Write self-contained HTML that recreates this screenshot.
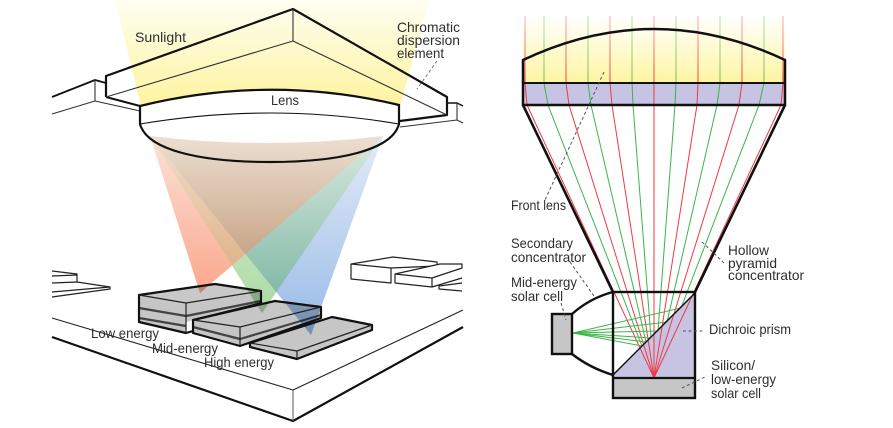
<!DOCTYPE html>
<html><head><meta charset="utf-8"><style>
html,body{margin:0;padding:0;background:#fff}
svg{display:block}
text{font-family:"Liberation Sans",sans-serif;font-size:14px;fill:#2e2e2e}
</style></head><body>
<svg width="893" height="428" viewBox="0 0 893 428" xmlns="http://www.w3.org/2000/svg">
<defs>
<linearGradient id="sun" x1="0" y1="0" x2="0" y2="1"><stop offset="0" stop-color="#fffef2"/><stop offset="1" stop-color="#fdf39c"/></linearGradient>
<linearGradient id="sun2" gradientUnits="userSpaceOnUse" x1="0" y1="16" x2="0" y2="83"><stop offset="0" stop-color="#fff"/><stop offset="1" stop-color="#fdf5a0"/></linearGradient>
<linearGradient id="r" gradientUnits="userSpaceOnUse" x1="0" y1="136" x2="0" y2="295"><stop offset="0" stop-color="#fbe3d8"/><stop offset="1" stop-color="#fba68c"/></linearGradient>
<linearGradient id="g" gradientUnits="userSpaceOnUse" x1="0" y1="136" x2="0" y2="315"><stop offset="0" stop-color="#e6f3e0"/><stop offset="1" stop-color="#aad9a2"/></linearGradient>
<linearGradient id="b" gradientUnits="userSpaceOnUse" x1="0" y1="136" x2="0" y2="335"><stop offset="0" stop-color="#e4ecf8"/><stop offset="1" stop-color="#98bae6"/></linearGradient>
<linearGradient id="rg" gradientUnits="userSpaceOnUse" x1="0" y1="136" x2="0" y2="275"><stop offset="0" stop-color="#f3e0cc"/><stop offset="1" stop-color="#dfb088"/></linearGradient>
<linearGradient id="gb" gradientUnits="userSpaceOnUse" x1="0" y1="136" x2="0" y2="300"><stop offset="0" stop-color="#dbe9e0"/><stop offset="1" stop-color="#7fb8a4"/></linearGradient>
<linearGradient id="rb" gradientUnits="userSpaceOnUse" x1="0" y1="136" x2="0" y2="255"><stop offset="0" stop-color="#ecdfd1"/><stop offset="1" stop-color="#c8a587"/></linearGradient>
<linearGradient id="rl" gradientUnits="userSpaceOnUse" x1="0" y1="16" x2="0" y2="83"><stop offset="0" stop-color="#f4707a" stop-opacity=".55"/><stop offset="1" stop-color="#ee3540"/></linearGradient>
<linearGradient id="gl" gradientUnits="userSpaceOnUse" x1="0" y1="16" x2="0" y2="83"><stop offset="0" stop-color="#7ccb80" stop-opacity=".55"/><stop offset="1" stop-color="#6cc040"/></linearGradient>
<clipPath id="cR"><polygon points="150,136 383,136 200,293"/></clipPath>
<clipPath id="cG"><polygon points="150,136 383,136 262,313"/></clipPath>
<clipPath id="cB"><polygon points="150,136 383,136 311,335"/></clipPath>
<clipPath id="cT"><path d="M100,130 H420 V136 H383 Q266,150 150,136 H100 Z M100,136 H150 Q266,150 383,136 H430 V350 H100 Z" clip-rule="evenodd"/></clipPath>
<clipPath id="cTop"><path d="M100,350 V136 H150 Q266,150 383,136 H430 V350 Z"/></clipPath>
</defs>

<!-- LEFT: sunlight -->
<polygon points="115,0 429,0 399,110 142,110" fill="url(#sun)"/>

<!-- roof -->
<g fill="none" stroke="#111" stroke-linejoin="round">
<path d="M52,97 L95,80 L106,83" stroke-width="1.8"/>
<path d="M52,114 L95,101 L140,111 M95,80 V101" stroke="#333" stroke-width="1.1"/>
<path d="M447,103 H457 L463,106" stroke-width="1.5"/>
<path d="M400,127 L457,120 L463,123 M457,103 V120" stroke="#333" stroke-width="1.1"/>
<path d="M106,97 V76 L293,9 L447,97 V115 L400,121" stroke-width="2.2"/>
<path d="M106,97 L140,106" stroke-width="2"/>
<path d="M293,9 V41 M106,97 L293,41 L447,115" stroke="#333" stroke-width="1.1"/>
</g>

<!-- lens -->
<path d="M140,106 Q270,74 399,105 V124 C392,150 340,162 270,162 C200,162 147,150 140,124 Z" fill="#fff"/>

<!-- platform and buildings -->
<g fill="#fff" stroke="#222" stroke-linejoin="round">
<path d="M52,318 L293,390 L463,310" fill="none" stroke-width="1.1"/>
<path d="M52,337 L293,421 L463,327" fill="none" stroke="#111" stroke-width="2.2"/>
<path d="M293,390 V421" fill="none" stroke="#555" stroke-width="1"/>
<path d="M351,264 L393,257 L437,262 V266 L391,268 V283 L351,279 Z M351,264 L391,268" stroke-width="1.2"/>
<path d="M395,274 L440,264 L462,264 V268 L432,278 V287 L395,283 Z M395,274 L432,278 M432,287 L462,278" stroke-width="1.2"/>
<path d="M462,283 L439,286 V289 L462,291" stroke-width="1.2"/>
<path d="M52,271 L77,274 V282 M52,276 L77,275 M52,283 L77,282 L110,287 V289 L52,297 M52,292 L110,287" fill="none" stroke-width="1.2"/>
</g>

<!-- cells -->
<g stroke="#111" stroke-linejoin="round">
<polygon points="139,295 186,303 186,333 139,322" fill="#c6c6c6" stroke="none"/>
<polygon points="186,303 261,291 261,303 186,322" fill="#c6c6c6" stroke="none"/>
<polygon points="139,295 215,284 261,291 186,303" fill="#c8c8c8" stroke="none"/>
<path d="M139,308 L186,316 L261,301 M139,318 L186,326" fill="none" stroke="#444" stroke-width="2.4"/>
<polygon points="193,320 275,301 321,307 321,318 240,346 193,333" fill="#c6c6c6" stroke="none"/>
<path d="M193,327 L240,339 L321,315" fill="none" stroke="#444" stroke-width="2.2"/>
<polygon points="250,343 332,317 372,325 372,330 297,359 250,347" fill="#c6c6c6" stroke="none"/>
</g>

<!-- cones -->
<g style="mix-blend-mode:multiply" clip-path="url(#cTop)">
<polygon points="150,136 383,136 200,293" fill="url(#r)"/>
<polygon points="150,136 383,136 262,313" fill="url(#g)"/>
<polygon points="150,136 383,136 311,335" fill="url(#b)"/>
<g clip-path="url(#cR)"><rect x="100" y="130" width="330" height="220" fill="url(#rg)" clip-path="url(#cG)"/></g>
<g clip-path="url(#cG)"><rect x="100" y="130" width="330" height="220" fill="url(#gb)" clip-path="url(#cB)"/></g>
<g clip-path="url(#cR)"><rect x="100" y="130" width="330" height="220" fill="url(#rb)" clip-path="url(#cB)"/></g>
</g>

<!-- cell outlines -->
<g fill="none" stroke="#111" stroke-linejoin="round">
<path d="M261,303 V291 L215,284 L139,295 V322 L186,333 L193,331" stroke-width="2.2"/>
<path d="M261,303 L193,320" stroke-width="1.8"/>
<path d="M139,295 L186,303 L261,291 M186,303 V333" stroke-width="1.2" stroke="#222"/>
<path d="M193,320 L275,301 L321,307 V318 L240,346 L193,333 Z" stroke-width="2.2"/>
<path d="M193,320 L240,327 L321,307 M240,327 V346" stroke-width="1.2" stroke="#222"/>
<path d="M250,343 L332,317 L372,325 V330 L297,359 L250,347 Z" stroke-width="2.2"/>
<path d="M250,343 L297,351 L372,325 M297,351 V359" stroke-width="1.2" stroke="#222"/>
</g>

<!-- lens outline -->
<g fill="none" stroke="#111">
<path d="M140,106 Q270,74 399,105 V124 C392,150 340,162 270,162 C200,162 147,150 140,124 Z" stroke-width="2.2"/>
<path d="M140,124 Q270,102 399,124" stroke-width="1.1"/>
</g>
<path d="M437,61 L417,89" stroke="#777" stroke-width="1" stroke-dasharray="3 2.5" fill="none"/>

<text x="135" y="42" textLength="51" lengthAdjust="spacingAndGlyphs">Sunlight</text>
<text x="397" y="32" textLength="63" lengthAdjust="spacingAndGlyphs">Chromatic</text>
<text x="397" y="45" textLength="63" lengthAdjust="spacingAndGlyphs">dispersion</text>
<text x="397" y="58" textLength="47" lengthAdjust="spacingAndGlyphs">element</text>
<text x="271" y="105" textLength="28" lengthAdjust="spacingAndGlyphs">Lens</text>
<text x="91" y="338" textLength="68" lengthAdjust="spacingAndGlyphs">Low energy</text>
<text x="152" y="353" textLength="66" lengthAdjust="spacingAndGlyphs">Mid-energy</text>
<text x="204" y="367" textLength="70" lengthAdjust="spacingAndGlyphs">High energy</text>

<!-- RIGHT -->
<rect x="523" y="16" width="262" height="67" fill="url(#sun2)"/>
<rect x="523" y="83" width="262" height="22" fill="#c6c4e2"/>
<polygon points="613,375 695,293 695,378 613,378" fill="#c6c4e2"/>
<rect x="613" y="378" width="82" height="20" fill="#c6c6c6"/>
<rect x="552" y="314" width="20" height="40" fill="#c6c6c6"/>

<g fill="none" stroke="url(#rl)" stroke-width="1">
<path d="M525,16 V83"/><path d="M566,16 V83"/><path d="M610,16 V83"/><path d="M654,16 V83"/><path d="M698,16 V83"/><path d="M742,16 V83"/><path d="M783,16 V83"/>
</g>
<g fill="none" stroke="url(#gl)" stroke-width="1">
<path d="M544,16 V83"/><path d="M588,16 V83"/><path d="M632,16 V83"/><path d="M676,16 V83"/><path d="M720,16 V83"/><path d="M764,16 V83"/>
</g>
<g fill="none" stroke="#ee3a46" stroke-width="1">
<path d="M525,83 L527,105 L654,378"/>
<path d="M566,83 L569,105 L654,378"/>
<path d="M610,83 L612,105 L654,378"/>
<path d="M654,83 V378"/>
<path d="M698,83 L697,105 L654,378"/>
<path d="M742,83 L739,105 L654,378"/>
<path d="M783,83 L781,105 L654,378"/>
</g>
<g fill="none" stroke="#3cb44a" stroke-width="1">
<path d="M544,83 L548,105 L642,346 L573,333"/>
<path d="M588,83 L591,105 L646,342 L573,333"/>
<path d="M632,83 L633,105 L651,338 L573,333"/>
<path d="M676,83 L675,105 L658,331 L573,333"/>
<path d="M720,83 L717,105 L667,322 L573,333"/>
<path d="M764,83 L759,105 L681,308 L573,333"/>
</g>

<g fill="none" stroke="#111" stroke-linejoin="miter">
<path d="M523,105 V60 Q654,-2 785,60 V105 Z" stroke-width="2.5"/>
<path d="M523,83 H785" stroke-width="2"/>
<path d="M523,105 L613,292 M785,105 L695,292" stroke-width="2.6"/>
<rect x="613" y="292" width="82" height="106" stroke-width="2.4"/>
<path d="M613,378 H695" stroke-width="2.2"/>
<path d="M613,375 L695,293" stroke-width="1.5"/>
<rect x="552" y="314" width="20" height="40" stroke-width="2.4"/>
<path d="M572,314 Q590,298 613,292 M572,354 Q590,368 613,375" stroke-width="2.4"/>
</g>

<g fill="none" stroke="#555" stroke-width="1" stroke-dasharray="3 2.5">
<path d="M604,72 L545,200"/>
<path d="M570,262 L594,296"/>
<path d="M561,303 L566,320"/>
<path d="M702,242 L724,263"/>
<path d="M683,331 H705"/>
<path d="M682,388 L707,376"/>
</g>

<text x="511" y="210" textLength="55" lengthAdjust="spacingAndGlyphs">Front lens</text>
<text x="511" y="248" textLength="62" lengthAdjust="spacingAndGlyphs">Secondary</text>
<text x="511" y="262" textLength="75" lengthAdjust="spacingAndGlyphs">concentrator</text>
<text x="511" y="287" textLength="66" lengthAdjust="spacingAndGlyphs">Mid-energy</text>
<text x="511" y="301" textLength="52" lengthAdjust="spacingAndGlyphs">solar cell</text>
<text x="728" y="255" textLength="41" lengthAdjust="spacingAndGlyphs">Hollow</text>
<text x="728" y="268" textLength="49" lengthAdjust="spacingAndGlyphs">pyramid</text>
<text x="728" y="280" textLength="76" lengthAdjust="spacingAndGlyphs">concentrator</text>
<text x="709" y="334" textLength="82" lengthAdjust="spacingAndGlyphs">Dichroic prism</text>
<text x="711" y="370" textLength="44" lengthAdjust="spacingAndGlyphs">Silicon/</text>
<text x="711" y="384" textLength="65" lengthAdjust="spacingAndGlyphs">low-energy</text>
<text x="711" y="398" textLength="50" lengthAdjust="spacingAndGlyphs">solar cell</text>
</svg>
</body></html>
